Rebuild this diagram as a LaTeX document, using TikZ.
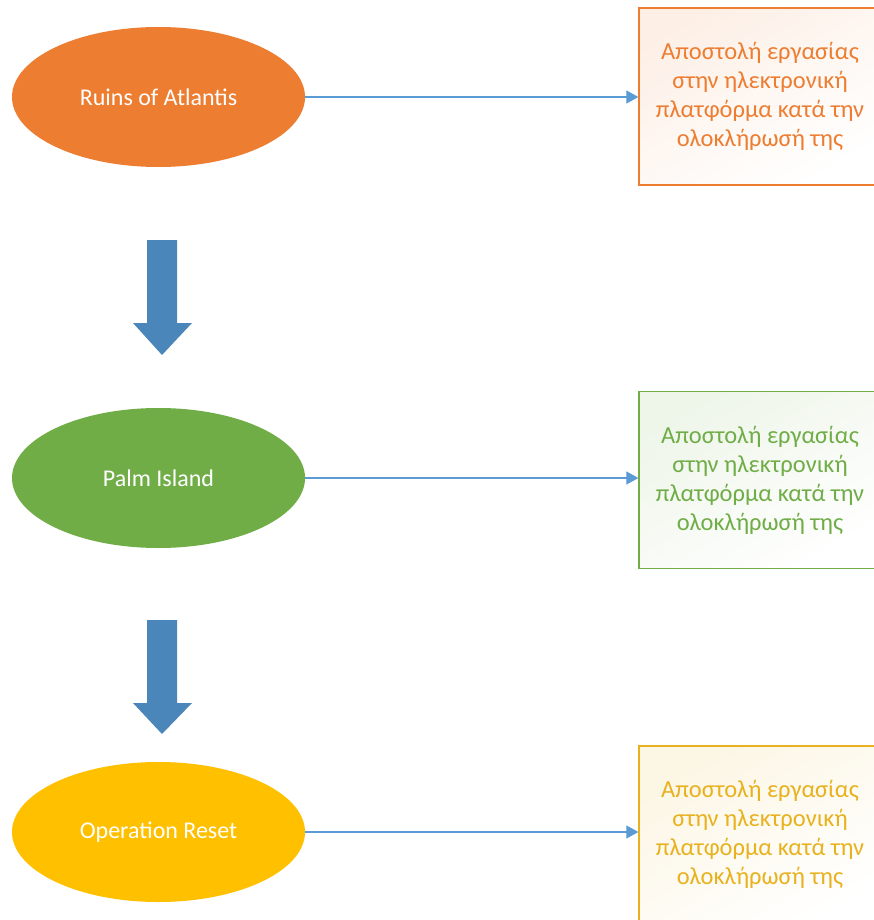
\documentclass[tikz,border=0pt]{standalone}
\usepackage{fontspec}
\setmainfont{Carlito}
\usetikzlibrary{shapes.geometric,arrows.meta}
\definecolor{cOr}{HTML}{ED7D31}
\definecolor{cGr}{HTML}{70AD47}
\definecolor{cYe}{HTML}{FFC000}
\definecolor{cYeT}{HTML}{E8B21E}
\definecolor{cBl}{HTML}{5B9BD5}
\definecolor{cBlk}{HTML}{4A86BA}
\tikzset{
  oval/.style={ellipse, draw=none, minimum width=293pt, minimum height=140pt, text=white, font=\fontsize{24}{28}\selectfont},
  taskbox/.style={rectangle, draw=#1, line width=1.3pt, minimum width=242pt, minimum height=177pt, text=#1, align=center, font=\fontsize{24.5}{29}\selectfont, top color=#1!12, bottom color=white, shading angle=30, inner sep=0pt},
  conn/.style={draw=cBl, line width=1.1pt, -{Triangle[length=12pt,width=13pt]}},
  blockarrow/.style={fill=cBlk}
}
\begin{document}
\begin{tikzpicture}[x=1pt,y=-1pt]
\useasboundingbox (0,0) rectangle (874,920);
\clip (0,0) rectangle (874,920);
\fill[white] (0,0) rectangle (874,920);
% ellipses
\node[oval, fill=cOr] (e1) at (158.5,97) {Ruins of Atlantis};
\node[oval, fill=cGr] (e2) at (158.5,478) {Palm Island};
\node[oval, fill=cYe] (e3) at (158.5,832) {Operation Reset};
% boxes
\node[taskbox=cOr] (b1) at (760,96.5) {Αποστολή εργασίας\\στην ηλεκτρονική\\πλατφόρμα κατά την\\ολοκλήρωσή της};
\node[taskbox=cGr] (b2) at (760,480) {Αποστολή εργασίας\\στην ηλεκτρονική\\πλατφόρμα κατά την\\ολοκλήρωσή της};
\node[taskbox=cYeT] (b3) at (760,834.5) {Αποστολή εργασίας\\στην ηλεκτρονική\\πλατφόρμα κατά την\\ολοκλήρωσή της};
% connectors
\draw[conn] (e1.east) -- (e1.east -| b1.west);
\draw[conn] (e2.east) -- (e2.east -| b2.west);
\draw[conn] (e3.east) -- (e3.east -| b3.west);
% block arrows
\fill[blockarrow] (147,240) -- (177,240) -- (177,323) -- (192,323) -- (162,355) -- (133,323) -- (147,323) -- cycle;
\fill[blockarrow] (147,620) -- (177,620) -- (177,703) -- (192,703) -- (162,734) -- (133,703) -- (147,703) -- cycle;
\end{tikzpicture}
\end{document}
